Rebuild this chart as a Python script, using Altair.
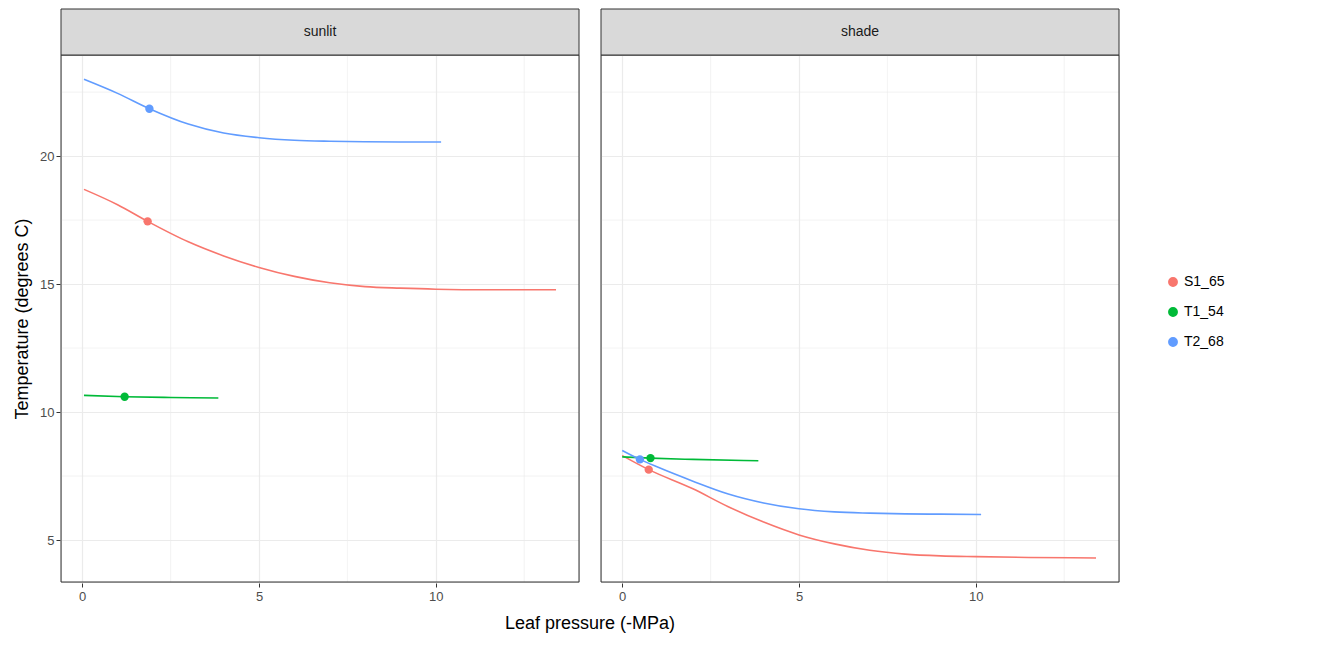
import altair as alt
import pandas as pd

panels = ["sunlit", "shade"]
series = ["S1_65", "T1_54", "T2_68"]
colors = ["#F8766D", "#00BA38", "#619CFF"]

sun_S1_x = [0.05, 1, 1.85, 3, 4, 5, 6, 7, 8, 9, 10, 11.5, 13.4]
sun_S1_y = [18.7, 18.1, 17.45, 16.65, 16.1, 15.65, 15.3, 15.05, 14.9, 14.84, 14.8, 14.78, 14.78]
sun_T1_x = [0.05, 1.2, 2.5, 3.85]
sun_T1_y = [10.65, 10.6, 10.57, 10.55]
sun_T2_x = [0.05, 1, 1.9, 3, 4, 5, 6, 7, 8, 9, 10.15]
sun_T2_y = [23.0, 22.45, 21.85, 21.25, 20.9, 20.72, 20.62, 20.58, 20.56, 20.55, 20.55]
sha_S1_x = [0.0, 0.75, 2, 3, 4, 5, 6, 7, 8, 9, 10, 11.5, 13.4]
sha_S1_y = [8.3, 7.75, 7.0, 6.3, 5.7, 5.2, 4.85, 4.6, 4.45, 4.38, 4.35, 4.32, 4.3]
sha_T1_x = [0.0, 0.8, 2, 3.85]
sha_T1_y = [8.25, 8.2, 8.15, 8.1]
sha_T2_x = [0.0, 0.5, 1, 2, 3, 4, 5, 6, 7, 8, 9, 10.15]
sha_T2_y = [8.5, 8.15, 7.85, 7.3, 6.8, 6.45, 6.22, 6.1, 6.05, 6.02, 6.01, 6.0]

pt_panel = ["sunlit", "sunlit", "sunlit", "shade", "shade", "shade"]
pt_series = ["S1_65", "T1_54", "T2_68", "S1_65", "T1_54", "T2_68"]
pt_x = [1.85, 1.2, 1.9, 0.75, 0.8, 0.5]
pt_y = [17.45, 10.6, 21.85, 7.75, 8.2, 8.15]

minor_x = [2.5, 7.5, 12.5]
minor_y = [7.5, 12.5, 17.5, 22.5]

rows = []
for p, s, xs, ys in [
    ("sunlit", "S1_65", sun_S1_x, sun_S1_y), ("sunlit", "T1_54", sun_T1_x, sun_T1_y),
    ("sunlit", "T2_68", sun_T2_x, sun_T2_y), ("shade", "S1_65", sha_S1_x, sha_S1_y),
    ("shade", "T1_54", sha_T1_x, sha_T1_y), ("shade", "T2_68", sha_T2_x, sha_T2_y)]:
    for x, y in zip(xs, ys):
        rows.append(dict(kind="line", panel=p, series=s, x=x, y=y))
for p, s, x, y in zip(pt_panel, pt_series, pt_x, pt_y):
    rows.append(dict(kind="point", panel=p, series=s, x=x, y=y))
for p in panels:
    rows.append(dict(kind="strip", panel=p))
    for v in minor_x:
        rows.append(dict(kind="vgrid", panel=p, x=v))
    for v in minor_y:
        rows.append(dict(kind="hgrid", panel=p, y=v))
df = pd.DataFrame(rows)

W, H = 518, 527
xs = alt.Scale(domain=[-0.6, 14.05], nice=False, zero=False)
ys = alt.Scale(domain=[3.36, 23.95], nice=False, zero=False)
col = alt.Color("series:N", scale=alt.Scale(domain=series, range=colors),
                legend=alt.Legend(title=None, symbolType="circle", symbolSize=70,
                                  labelFontSize=14, labelColor="#000", rowPadding=14,
                                  orient="none", legendX=1105, legendY=220))
xax = alt.Axis(values=[0, 5, 10], title=None, labelFontSize=13, labelColor="#4D4D4D",
               gridColor="#EBEBEB", gridWidth=1.2, tickColor="#333", domain=False, tickSize=4,
               labelPadding=3)
yax = alt.Axis(values=[5, 10, 15, 20], title="Temperature (degrees C)", titleFontSize=18,
               titleFontWeight="normal", titleColor="#000", labelFontSize=13, labelColor="#4D4D4D",
               gridColor="#EBEBEB", gridWidth=1.2, tickColor="#333", domain=False, tickSize=4,
               titlePadding=8)

base = alt.Chart()
vgrid = base.transform_filter("datum.kind=='vgrid'").mark_rule(color="#EBEBEB", strokeWidth=0.6).encode(
    x=alt.X("x:Q", scale=xs, axis=xax))
hgrid = base.transform_filter("datum.kind=='hgrid'").mark_rule(color="#EBEBEB", strokeWidth=0.6).encode(
    y=alt.Y("y:Q", scale=ys, axis=yax))
line = base.transform_filter("datum.kind=='line'").mark_line(strokeWidth=1.6, interpolate="monotone").encode(
    x=alt.X("x:Q", scale=xs, axis=xax), y=alt.Y("y:Q", scale=ys, axis=yax), color=col,
    detail="series:N")
pts = base.transform_filter("datum.kind=='point'").mark_circle(size=70, opacity=1).encode(
    x=alt.X("x:Q", scale=xs), y=alt.Y("y:Q", scale=ys), color=col)
border = base.transform_filter("datum.kind=='strip'").mark_rect(
    fill=None, fillOpacity=0, stroke="#333", strokeWidth=1).encode(
    x=alt.value(0), x2=alt.value(W), y=alt.value(0), y2=alt.value(H))
strip = base.transform_filter("datum.kind=='strip'").mark_rect(
    fill="#D9D9D9", stroke="#333", strokeWidth=1).encode(
    x=alt.value(0), x2=alt.value(W), y=alt.value(-46), y2=alt.value(0))
stext = base.transform_filter("datum.kind=='strip'").mark_text(
    fontSize=14, color="#1A1A1A").encode(x=alt.value(W / 2), y=alt.value(-23), text="panel:N")

chart = alt.layer(vgrid, hgrid, line, pts, border, strip, stext, data=df).properties(
    width=W, height=H
).facet(
    column=alt.Column("panel:N", sort=panels,
                      header=alt.Header(labels=False, title="Leaf pressure (-MPa)",
                                        titleOrient="bottom", titleFontSize=18,
                                        titleFontWeight="normal", titleColor="#000",
                                        titlePadding=2))
).properties(padding={"top": 0, "left": 5, "right": 5, "bottom": 2}).configure_facet(spacing=16).configure_view(
    stroke=None
).configure(font="Liberation Sans")

chart.save("out.html", embed_options={"renderer": "svg", "actions": False})
